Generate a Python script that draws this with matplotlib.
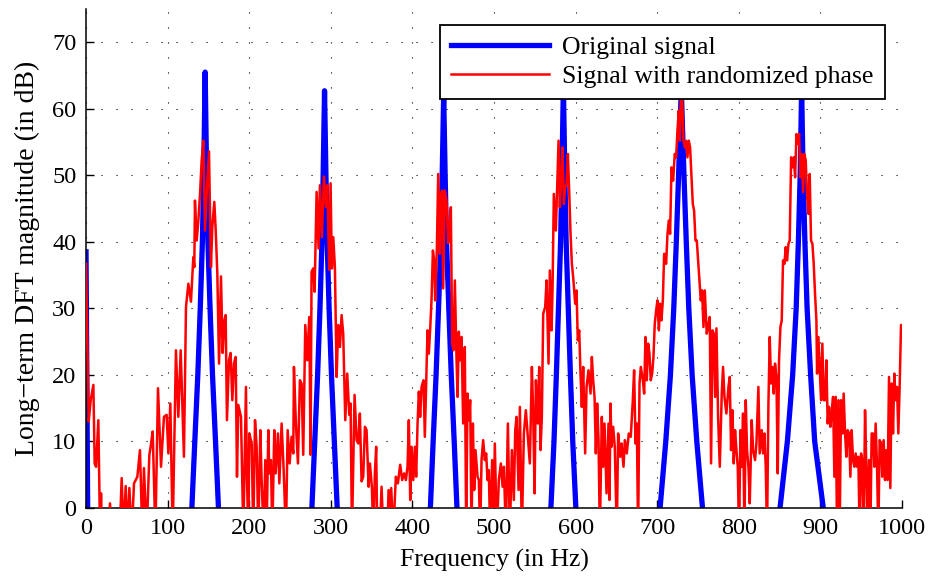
import matplotlib
matplotlib.use("Agg")
import matplotlib.pyplot as plt

# ----- values -----
# Original signal: spike at DC plus six harmonic peaks
blue_freq = [0, 2, 4,
             126, 129.7, 133.3, 137, 140, 142.6, 144.2, 146, 147.8, 149.4, 152, 155, 158.7, 162.3, 166,
             272, 276.8, 280.3, 283.8, 286.7, 289.1, 290.6, 292.3, 294, 295.5, 297.9, 300.8, 304.3, 307.8, 312,
             418, 422, 425.4, 429, 432, 434.8, 436.5, 438.3, 440.1, 441.8, 444.6, 447.6, 451.2, 454.6, 459,
             565, 569.7, 573.5, 576.4, 579, 581.6, 583.2, 585, 586.8, 588.4, 591, 593.6, 596.5, 600.3, 605,
             698, 703.5, 710.5, 716.2, 720.3, 723.4, 726.2, 729.5, 732.8, 735.6, 738.7, 742.8, 748.5, 755.5, 761,
             845, 850.5, 859.5, 866, 870.3, 873, 875.2, 877, 878.8, 881, 883.7, 888, 893, 903.5, 908]
blue_db = [38.5, 0, -10,
           -10, 0, 10, 20, 30, 40, 50, 65.5, 50, 40, 30, 20, 10, 0, -10,
           -10, 0, 10, 20, 30, 40, 50, 62.7, 50, 40, 30, 20, 10, 0, -10,
           -10, 0, 10, 20, 30, 40, 50, 62.0, 50, 40, 30, 20, 10, 0, -10,
           -10, 0, 10, 20, 30, 40, 50, 63.5, 50, 40, 30, 20, 10, 0, -10,
           -10, 0, 10, 20, 30, 40, 50, 63.0, 50, 40, 30, 20, 10, 0, -10,
           -10, 0, 10, 20, 30, 40, 50, 63.0, 50, 40, 30, 20, 10, 0, -10]

# Signal with randomized phase (values below 0 are clipped by the axes)
red_freq = [
    0, 3.3, 5.7, 9, 10.6, 12.3, 15.1, 17.2, 18.4, 19.6, 25, 29.4, 33, 40, 43.7, 46.1, 48.6, 50.6, 53.1, 56,
    58.8, 62.9, 66.1, 69, 71, 74.3, 77.6, 79.2, 81.7, 85, 88.2, 91.9, 95.5, 98.8, 100.9, 103.3, 106.2, 110.2,
    113.1, 116, 120, 122.5,
    125.4, 128.6, 131.5, 132.7, 133.5, 135.6, 137.6, 139.7, 141.7, 143.8,
    145.8, 148.3, 150.7, 153.1, 154.8, 157.2, 158.9, 160.9, 163, 165.4,
    167.4, 169.5, 171.1, 172.7, 175.2, 177.2, 179.3, 181.3, 183.4, 185,
    186.6, 189.9, 192.8, 196, 197.2, 198.9, 200.1, 203, 205, 207.1,
    209.1, 211.1, 213.6, 215.2, 217.7, 219.7, 221.3, 223.4, 224.6, 226.6,
    228.3, 230.7, 232.4, 235.2, 236.9, 239.7, 242.2, 245, 247.1, 249.5,
    251.9, 254, 254.8, 257.2, 259.7, 262.1, 264.2, 266.2, 268.7, 271.1,
    273.6, 275.2, 276.4, 278.5, 280.1, 282.6, 285, 286.6, 289.1, 291.5,
    294, 295.6, 298.1, 299.7, 301.3, 303, 305, 307.1, 309.1, 311.2,
    313.2, 315.2, 317.7, 320.1, 322.6, 324.2, 325.9, 329.1, 331.6, 333.6,
    335.6, 337.7, 339.7, 341.8, 343.8, 346.3, 347.9, 350.3, 352, 354,
    355.6, 356.9, 359.3, 362.2, 365, 368, 370.8, 372.4, 374, 376.5,
    379.7, 382.2,
    385, 387.5, 389.9, 392, 394, 395.6, 397.3, 398.9, 401, 403,
    404.6, 406.3, 407.9, 409.5, 411.2, 413.6, 415.2, 416.9, 418.5, 420.1,
    421.8, 423.4, 425.1, 426.7, 427.9, 429.9, 431.6, 433.6, 434.8, 436.5,
    437.7, 439.7, 441.8, 443.8, 445.5, 447.1, 448.7, 450.4, 452, 454,
    455.3, 456.9, 458.5, 460.2, 462.2, 464.2, 465.9, 467.5, 469.1, 470.8,
    472.4, 474.1, 475.7, 477.3, 479.8, 481.4, 483, 484.7, 486.7, 488.7,
    490.4, 492, 493.6, 495.3, 497.7, 499.4, 501, 503.4, 505.9,
    508.4, 510.5, 512.1, 514.5, 517, 519.4, 521.9, 524.3, 526, 527.6,
    530.1, 531.7, 534.1, 536.6, 539, 541.5, 543.9, 546.4, 548, 549.7,
    551.3, 553.7, 555.4, 557, 558.6, 560.3, 562.7, 564.4, 566.8, 568.4,
    570.5, 571.7, 573.3, 575.8, 577.4, 579.1, 580.7, 582.3, 583.9, 585.6,
    587.2, 588.9, 590.5, 592.1, 593.8, 595.4, 597, 599.5, 601.1, 602.7,
    604.4, 606, 607.6, 609.3, 611.7, 613.4, 615.8, 618.3, 619.9, 621.5,
    623.2, 624.8, 626.4, 628.1, 629.7, 632.1, 633.8, 635.4, 637.9, 640.3,
    641.5, 642.8, 644, 646, 648, 650.5, 652.1, 654.6, 656.2, 658.7,
    660.3, 662.7, 665.2, 667.6, 670.1, 671.7, 673.4, 675, 676.6, 678.3,
    679.9, 682.4, 684, 685.6, 687.2, 688.9, 690.5, 692.1, 693.8, 695.4,
    697, 698.7, 700.3, 702, 703.6, 705.2, 706.9, 708.5, 710.9, 712.6,
    714.2, 715.8, 717.5, 719.5, 721.5, 723.2, 724.8, 726.4, 727.7, 728.9,
    730.5, 732.2, 733.8, 735.4, 737, 738.7, 740.3, 741.9, 743.6, 745.2,
    746.9, 748.5, 750.1, 751.8, 753.4, 755, 756.7, 758.3, 760.7, 762.4,
    764.4,
    766, 767.7, 769.3, 771, 772.6, 774.6, 776.7, 779.1, 780.7, 782.4,
    784.8, 787.3, 788.9, 790.5, 792.2, 793.8, 795.4, 797.1, 798.7, 800.3,
    802, 803.6, 805.2, 806.9, 808.5, 810.1, 811.8, 813.4, 815.8, 817.5,
    819.9, 821.6, 824, 825.6, 828.1, 829.7, 831.4, 833, 834.6, 836.3,
    837.9, 839.5, 841.2, 842.8, 844.4, 846.1, 847.7, 849.3, 851, 852.6,
    854.2, 855.9, 857.5, 859.1, 860.8, 862.4, 864.1, 865.7, 867.3, 869,
    870.6, 872.2, 873.9, 875.5, 877.1, 878.7, 880.4, 882, 883.6, 885.3,
    886.9, 888.5, 890.2, 891.8, 893.4, 895.1, 895.9, 897.5, 899.1, 900.8,
    902.4, 904, 905.7, 907.3, 908.9, 910.6, 912.2, 913.8, 915.5, 917.1,
    918.7, 920.4, 922, 923.6, 925.3, 926.9, 928.5, 930.2, 931.8, 933.4,
    935.1, 936.7, 938.3, 940, 941.6, 943.2, 944.9, 946.5, 948.1, 949.8,
    951.4, 953, 954.7, 956.3, 957.9, 959.6, 961.2, 962.8, 964.5, 966.1,
    967.7, 969.4, 971, 972.6, 974.3, 975.9, 977.5, 979.2, 980.8, 982.4,
    984.1, 985.7, 987.3, 989, 990.6, 992.2, 993.9, 995.5, 997.1, 998.8,
    1000,
]
red_db = [
    36.7, 13, 16.2, 18.5, 6.7, 6.2, 13.2, -4, 2.2, -5, -10, 0.7, -10, -8, 4.5, -4, 3.3, -4, 3, -4,
    3.7, 4.7, 8.7, -4, 6, -4, 8, 9.2, 11.5, -4, 18, 6.2, 13.7, 14, 8.2, 15.7, -4, 23.7,
    13.7, 23.7, 7.7, 30.2,
    33.7, 31, 37.7, 36.2, 46.2, 40.2, 43, 47.2, 52.2, 55.2,
    41.7, 48.3, 53.6, 36.2, 42.3, 46, 41.8, 35.3, 21.7, 34.8,
    23.3, 28.2, 29, 13.2, 22.2, 23.3, 16.2, 21.7, 22.7, 4.7,
    15.5, 13.7, -4, 18.2, 4.7, -4, 11.2, 9.7, -4, 13.2,
    9.2, -4, 11.7, 4.2, -4, 7.2, -4, 11.7, 5.2, 7.2,
    -4, 11.7, 5.2, 11.2, 3.7, 12.7, 5.7, -4, 11.7, 6.7,
    10.7, 8.2, 21.2, 12.7, 6.7, 19.2, 18.7, 8, 27.5, 22.2,
    28.7, 8, 35.5, 36, 32.5, 47.5, 39, 48.5, 40.7, 49.8,
    45.3, 48.5, 35.8, 48.8, 36, 40.7, 36.2, 19.7, 27.5, 24.2,
    29, 26.2, 13.2, 20.2, 14, 15.7, -4, 17, 10.2, 9.7,
    14.2, 4, 4.7, 12.2, 11.7, 3.2, 6.7, 3.2, -4, 5.2,
    9.2, -4, -6, 3.2, -6, -8, 2.7, -4, 3, -4,
    4.7, 3.7,
    6.5, 4.2, 5.2, 4.2, 6.2, 13.2, 1.2, 9.2, 4.2, 9.2,
    4.7, 12.7, 17.5, 13.7, 18.2, 19.2, 10.7, 19.2, 26.7, 23.2,
    27, 31.2, 38.7, 37.2, 31.2, 38.7, 50.2, 38.2, 47.2, 47.7,
    33, 47.7, 46.2, 39.8, 42.3, 45.2, 24.7, 23.7, 34.2, 22.7,
    16.7, 26.5, 22.2, 25.7, 12.7, 24.2, -4, 17.2, 13.2, 16.2,
    -4, 12.7, 2.7, 8.7, 4.7, 4.2, -4, 7.2, 10.2, 7.2,
    8.2, 4.2, 5.7, -4, 7.2, -4, 9.7, -4, 4.2,
    6.7, 3.2, 6.2, -4, 12.7, -4, 8.7, 1.2, 11.7, 13.7,
    2.7, 15.2, -4, 11.2, 14.7, 10.7, 6.7, 21.2, 14.2, 2.2,
    19.2, 12.7, 21.2, 8.7, 13.7, 29.2, 30.2, 34.2, 21.7, 35.7,
    26.7, 32.7, 47.2, 41.7, 48.2, 55.2, 45.2, 49.4, 54.2, 45.7,
    48.2, 48.7, 53.2, 47.7, 41.2, 36.7, 34.7, 30.7, 32.7, 25.2,
    26.7, 20.2, 15.2, 21.2, 8.2, 18.2, 20.7, 17.2, 22.7, 19.2,
    16.7, 8.2, 15.7, 10.2, -4, 13.7, 6.2, 12.7, 2.2, 12.7,
    1.2, 15.7, 9.2, 12.2, 9.2, -4, 11.2, 7.7, 9.7, 6.2,
    10.2, 8.2, 11.2, 10.7, 16.2, 20.7, 9.7, 12.7, -4, 18.7,
    21.2, 19.2, 17.2, 25.7, 19.2, 24.7, 23.2, 19.2, 20.2, 22.7,
    27.7, 29.7, 31.2, 26.7, 30.7, 28.2, 31.2, 38.2, 36.7, 41.2,
    43.2, 41.2, 51.2, 49.2, 53.2, 52.7, 56.7, 59.7, 55.2, 61.5,
    62, 55.2, 54.2, 55.2, 52.7, 55.2, 54.2, 50.2, 45.7, 44.7,
    40.2, 40.2, 37.2, 34.2, 31.2, 32.7, 27.2, 32.7, 26.2, 27.2,
    28.7,
    6.7, 26.7, 26.2, 16.7, 27, 13.7, 6.2, 17.2, 21.2, 16.7,
    14.2, 18.2, 19.7, 8.7, 14.7, 6.7, 11.7, 8.7, 6.2, -4,
    11.7, 6.2, 14.2, -4, 16.2, 8.7, 6.2, 0.7, 13.2, 8.7,
    7.2, 9.7, 18.2, 8.2, 11.7, 8.2, 11.2, 6.2, -4, 15.7,
    25.7, 18.7, 21.2, 17.2, 21.7, 19.7, 5.2, 22.2, 27.2, 28.2,
    37.2, 36.7, 39.2, 37.2, 39.7, 40.2, 52.7, 51.2, 52.7, 49.7,
    56.2, 54.7, 56.2, 49.7, 53.2, 47.5, 53.2, 52.2, 47.2, 44.2,
    50.2, 40.2, 39.7, 36.7, 32.2, 28.2, 20.2, 25.7, 21.2, 16.2,
    24.7, 16.2, 16.2, 22.2, 12.7, 15.2, 12.2, 14.2, 16.7, 4.7,
    16.7, -4, 16.2, -4, 16.2, 11.2, 17.2, 11.2, 7.7, 11.7,
    11.2, 4.7, 11.7, 7.2, 6.2, 8.2, 6.2, 7.7, -4, 8.2,
    7.2, -4, 14.7, 6.2, -4, 7.2, -4, 11.2, 11.2, 6.2,
    12.7, 6.2, -4, 10.2, 9.7, 4.7, 10.2, 4.2, 8.7, 4.2,
    19.7, 3, 18.7, 11.2, 20.2, 16.2, 18.2, 11.2, 18.2, 27.5,
    27.5,
]

x_ticks = list(range(0, 1001, 100))
y_ticks = list(range(0, 71, 10))

# ----- style (MATLAB-like) -----
plt.rcParams['font.family'] = ['Liberation Serif', 'DejaVu Serif']
plt.rcParams['lines.scale_dashes'] = False

fig = plt.figure(figsize=(9.3, 5.79), dpi=100)
ax = fig.add_axes([0.0925, 0.1226, 0.8774, 0.862])

ax.plot(blue_freq, blue_db, color='#0000ff', lw=3.8, label='Original signal',
        solid_joinstyle='round', zorder=2)
ax.plot(red_freq, red_db, color='#ff0000', lw=1.8, label='Signal with randomized phase',
        zorder=3)

ax.set_xlim(0, 1000)
ax.set_ylim(0, 75)
ax.set_xticks(x_ticks)
ax.set_yticks(y_ticks)
ax.grid(True, color='black', linestyle=(0, (0.8, 10)), linewidth=0.8)
ax.set_axisbelow(True)

for side in ['top', 'right']:
    ax.spines[side].set_visible(False)
for side in ['left', 'bottom']:
    ax.spines[side].set_linewidth(1.1)

ax.tick_params(direction='in', length=6, width=1, labelsize=17.5, pad=7,
               top=False, right=False)

ax.set_xlabel('Frequency (in Hz)', fontsize=18.5, labelpad=7)
ax.set_ylabel('Long\u2212term DFT magnitude (in dB)', fontsize=20, labelpad=9)

leg = ax.legend(loc='upper right', bbox_to_anchor=(0.979, 0.968), borderaxespad=0,
                fontsize=18.5, fancybox=False, framealpha=1, edgecolor='black',
                handlelength=3.8, labelspacing=0.2, borderpad=0.45,
                handletextpad=0.5)
leg.get_frame().set_linewidth(1.3)
leg.set_zorder(5)

fig.savefig('out.png', dpi=100)
